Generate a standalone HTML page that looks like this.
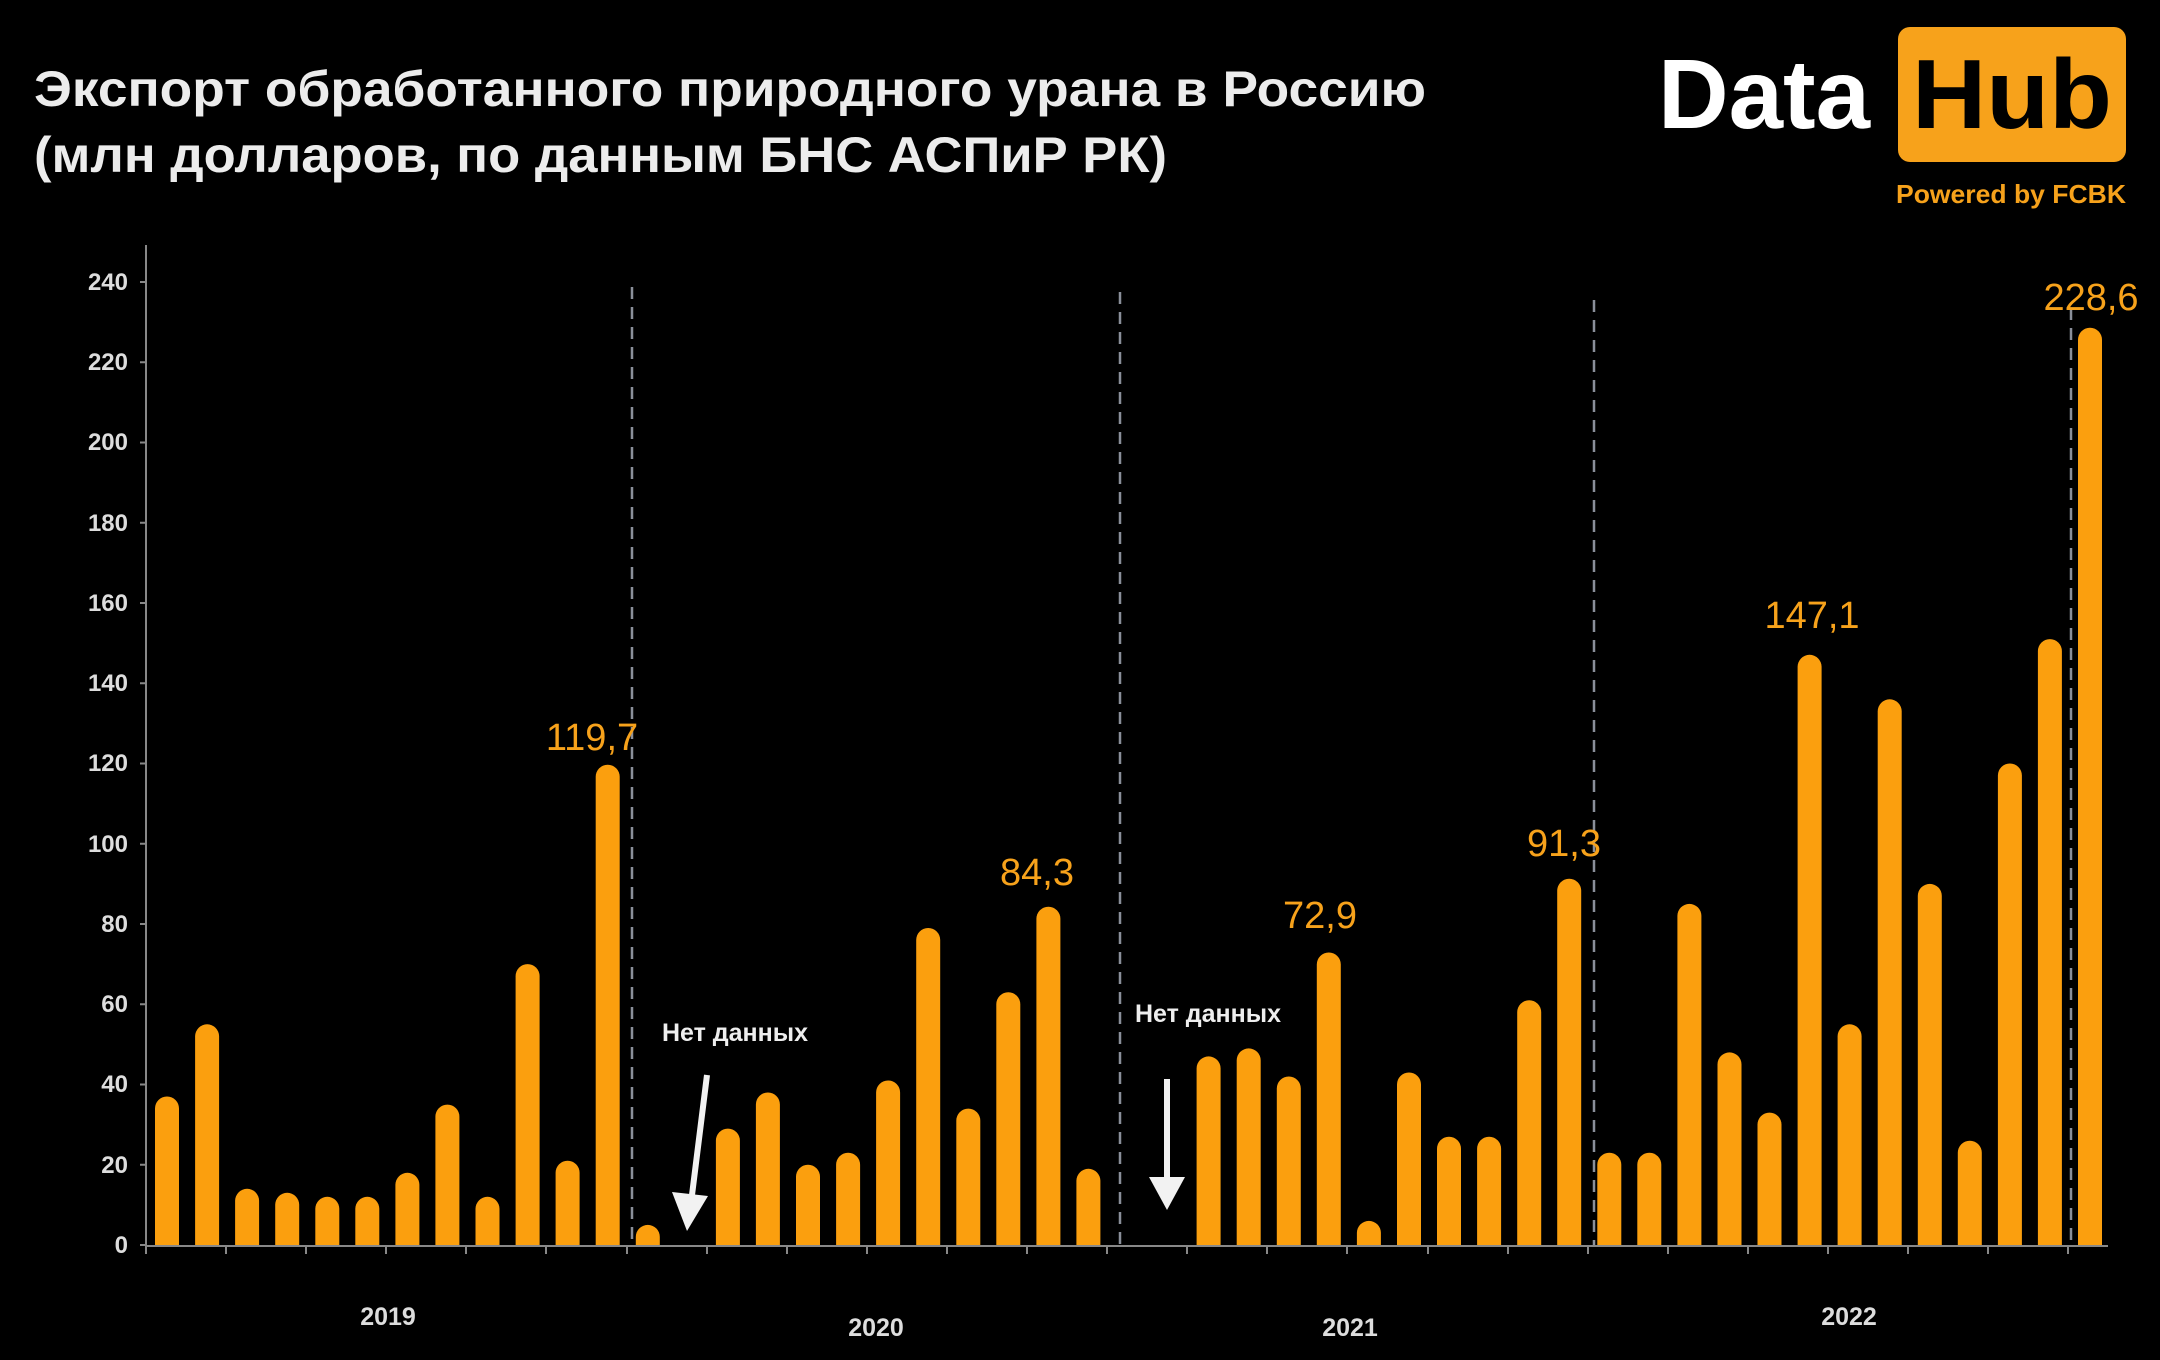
<!DOCTYPE html>
<html><head><meta charset="utf-8"><style>
html,body{margin:0;padding:0;background:#000;}
svg{display:block;}
</style></head><body>
<svg width="2160" height="1360" viewBox="0 0 2160 1360" xmlns="http://www.w3.org/2000/svg" font-family="'Liberation Sans', sans-serif">
<rect width="2160" height="1360" fill="#000"/>
<text x="34" y="106" fill="#ececec" font-size="50" font-weight="bold" textLength="1392" lengthAdjust="spacingAndGlyphs">Экспорт обработанного природного урана в Россию</text>
<text x="34" y="172" fill="#ececec" font-size="50" font-weight="bold" textLength="1133" lengthAdjust="spacingAndGlyphs">(млн долларов, по данным БНС АСПиР РК)</text>
<text x="1658" y="128" fill="#fff" font-size="98" font-weight="bold" textLength="212" lengthAdjust="spacingAndGlyphs">Data</text>
<rect x="1898" y="27" width="228" height="135" rx="12" fill="#f7a21b"/>
<text x="1912" y="128" fill="#000" font-size="98" font-weight="bold" textLength="200" lengthAdjust="spacingAndGlyphs">Hub</text>
<text x="1896" y="203" fill="#f7a21b" font-size="26" font-weight="bold" textLength="230" lengthAdjust="spacingAndGlyphs">Powered by FCBK</text>

<g stroke="#8a8f9a" stroke-width="2.5" stroke-dasharray="12,8">
<line x1="632" y1="287" x2="632" y2="1245"/>
<line x1="1120" y1="292" x2="1120" y2="1245"/>
<line x1="1594" y1="300" x2="1594" y2="1245"/>
<line x1="2071" y1="308" x2="2071" y2="1245"/>
</g>

<g fill="#fb9f0e">
<rect x="155" y="1096.5" width="24" height="160.5" rx="12"/>
<rect x="195.1" y="1024.3" width="24" height="232.7" rx="12"/>
<rect x="235.1" y="1188.8" width="24" height="68.2" rx="12"/>
<rect x="275.2" y="1192.8" width="24" height="64.2" rx="12"/>
<rect x="315.3" y="1196.8" width="24" height="60.2" rx="12"/>
<rect x="355.3" y="1196.8" width="24" height="60.2" rx="12"/>
<rect x="395.4" y="1172.8" width="24" height="84.2" rx="12"/>
<rect x="435.4" y="1104.6" width="24" height="152.4" rx="12"/>
<rect x="475.5" y="1196.8" width="24" height="60.2" rx="12"/>
<rect x="515.6" y="964.1" width="24" height="292.9" rx="12"/>
<rect x="555.6" y="1160.7" width="24" height="96.3" rx="12"/>
<rect x="595.7" y="764.7" width="24" height="492.3" rx="12"/>
<rect x="635.8" y="1224.9" width="24" height="32.1" rx="12"/>
<rect x="715.9" y="1128.6" width="24" height="128.4" rx="12"/>
<rect x="755.9" y="1092.5" width="24" height="164.5" rx="12"/>
<rect x="796" y="1164.7" width="24" height="92.3" rx="12"/>
<rect x="836.1" y="1152.7" width="24" height="104.3" rx="12"/>
<rect x="876.1" y="1080.5" width="24" height="176.5" rx="12"/>
<rect x="916.2" y="928" width="24" height="329" rx="12"/>
<rect x="956.3" y="1108.6" width="24" height="148.4" rx="12"/>
<rect x="996.3" y="992.2" width="24" height="264.8" rx="12"/>
<rect x="1036.4" y="906.7" width="24" height="350.3" rx="12"/>
<rect x="1076.4" y="1168.8" width="24" height="88.2" rx="12"/>
<rect x="1196.6" y="1056.4" width="24" height="200.6" rx="12"/>
<rect x="1236.7" y="1048.4" width="24" height="208.6" rx="12"/>
<rect x="1276.8" y="1076.5" width="24" height="180.5" rx="12"/>
<rect x="1316.8" y="952.5" width="24" height="304.5" rx="12"/>
<rect x="1356.9" y="1220.9" width="24" height="36.1" rx="12"/>
<rect x="1397" y="1072.5" width="24" height="184.5" rx="12"/>
<rect x="1437" y="1136.7" width="24" height="120.3" rx="12"/>
<rect x="1477.1" y="1136.7" width="24" height="120.3" rx="12"/>
<rect x="1517.2" y="1000.2" width="24" height="256.8" rx="12"/>
<rect x="1557.2" y="878.7" width="24" height="378.3" rx="12"/>
<rect x="1597.3" y="1152.7" width="24" height="104.3" rx="12"/>
<rect x="1637.3" y="1152.7" width="24" height="104.3" rx="12"/>
<rect x="1677.4" y="903.9" width="24" height="353.1" rx="12"/>
<rect x="1717.5" y="1052.4" width="24" height="204.6" rx="12"/>
<rect x="1757.5" y="1112.6" width="24" height="144.4" rx="12"/>
<rect x="1797.6" y="654.8" width="24" height="602.2" rx="12"/>
<rect x="1837.6" y="1024.3" width="24" height="232.7" rx="12"/>
<rect x="1877.7" y="699.3" width="24" height="557.7" rx="12"/>
<rect x="1917.8" y="883.9" width="24" height="373.1" rx="12"/>
<rect x="1957.8" y="1140.7" width="24" height="116.3" rx="12"/>
<rect x="1997.9" y="763.5" width="24" height="493.5" rx="12"/>
<rect x="2037.9" y="639.1" width="24" height="617.9" rx="12"/>
<rect x="2078" y="327.7" width="24" height="929.3" rx="12"/>
</g>
<rect x="140" y="1246" width="1990" height="30" fill="#000"/>

<g stroke="#888" stroke-width="2">
<line x1="146" y1="245" x2="146" y2="1246"/>
<line x1="146" y1="1246" x2="2108" y2="1246"/>
<line x1="140" y1="1245" x2="146" y2="1245"/>
<line x1="140" y1="1164.75" x2="146" y2="1164.75"/>
<line x1="140" y1="1084.5" x2="146" y2="1084.5"/>
<line x1="140" y1="1004.25" x2="146" y2="1004.25"/>
<line x1="140" y1="924" x2="146" y2="924"/>
<line x1="140" y1="843.75" x2="146" y2="843.75"/>
<line x1="140" y1="763.5" x2="146" y2="763.5"/>
<line x1="140" y1="683.25" x2="146" y2="683.25"/>
<line x1="140" y1="603" x2="146" y2="603"/>
<line x1="140" y1="522.75" x2="146" y2="522.75"/>
<line x1="140" y1="442.5" x2="146" y2="442.5"/>
<line x1="140" y1="362.25" x2="146" y2="362.25"/>
<line x1="140" y1="282" x2="146" y2="282"/>
<path d="M146 1246v8M226 1246v8M306 1246v8M386 1246v8M466 1246v8M546 1246v8M627 1246v8M707 1246v8M787 1246v8M867 1246v8M947 1246v8M1027 1246v8M1107 1246v8M1187 1246v8M1267 1246v8M1347 1246v8M1428 1246v8M1508 1246v8M1588 1246v8M1668 1246v8M1748 1246v8M1828 1246v8M1908 1246v8M1988 1246v8M2068 1246v8"/>
</g>

<g fill="#ddd" font-size="24" font-weight="bold" text-anchor="end">
<text x="128" y="1253">0</text>
<text x="128" y="1173">20</text>
<text x="128" y="1092">40</text>
<text x="128" y="1012">60</text>
<text x="128" y="932">80</text>
<text x="128" y="852">100</text>
<text x="128" y="771">120</text>
<text x="128" y="691">140</text>
<text x="128" y="611">160</text>
<text x="128" y="531">180</text>
<text x="128" y="450">200</text>
<text x="128" y="370">220</text>
<text x="128" y="290">240</text>
</g>

<g fill="#f7a21b" font-size="38" text-anchor="middle">
<text x="592" y="750">119,7</text>
<text x="1037" y="885">84,3</text>
<text x="1320" y="928">72,9</text>
<text x="1564" y="856">91,3</text>
<text x="1812" y="628">147,1</text>
<text x="2091" y="310">228,6</text>
</g>

<g fill="#ddd" font-size="25" font-weight="bold" text-anchor="middle">
<text x="388" y="1325">2019</text>
<text x="876" y="1336">2020</text>
<text x="1350" y="1336">2021</text>
<text x="1849" y="1325">2022</text>
</g>

<text x="735" y="1041" fill="#eee" font-size="25" font-weight="bold" text-anchor="middle">Нет данных</text>
<text x="1208" y="1022" fill="#eee" font-size="25" font-weight="bold" text-anchor="middle">Нет данных</text>
<line x1="707" y1="1075" x2="692" y2="1195" stroke="#f2f2f2" stroke-width="6"/>
<polygon points="672,1192 708,1196 687,1231" fill="#f2f2f2"/>
<line x1="1167" y1="1079" x2="1167" y2="1180" stroke="#f2f2f2" stroke-width="6"/>
<polygon points="1149,1177 1185,1177 1167,1210" fill="#f2f2f2"/>
</svg>
</body></html>
